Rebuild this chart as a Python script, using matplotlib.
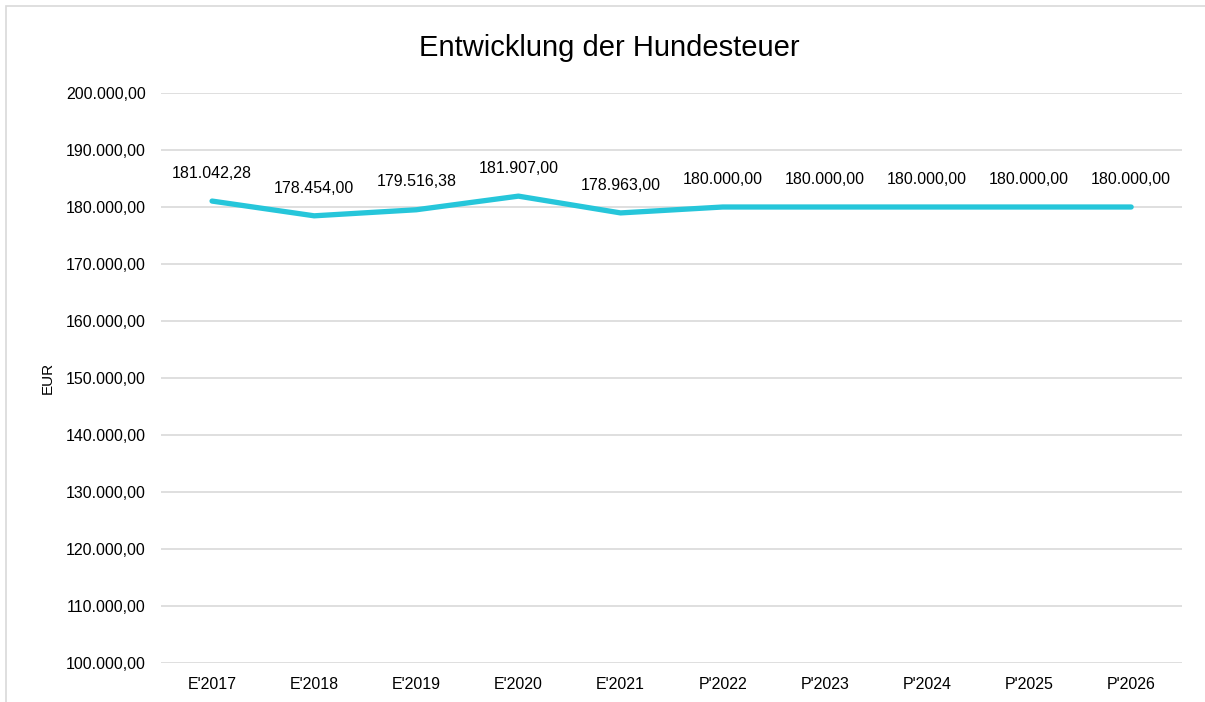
import matplotlib
matplotlib.use("Agg")
import matplotlib.pyplot as plt
from matplotlib.patches import Rectangle

plt.rcParams['font.family'] = ['Liberation Sans', 'DejaVu Sans']

# data
jahre = ["E'2017", "E'2018", "E'2019", "E'2020", "E'2021",
         "P'2022", "P'2023", "P'2024", "P'2025", "P'2026"]
steuer = [181042.28, 178454.00, 179516.38, 181907.00, 178963.00,
          180000.00, 180000.00, 180000.00, 180000.00, 180000.00]
y_ticks = [100000, 110000, 120000, 130000, 140000, 150000,
           160000, 170000, 180000, 190000, 200000]


def de_format(v):
    s = "{:,.2f}".format(v)
    return s.replace(",", "X").replace(".", ",").replace("X", ".")


fig = plt.figure(figsize=(12.05, 7.02), dpi=100)
ax = fig.add_axes([0.1336, 0.0556, 0.8475, 0.8119])

x = list(range(len(jahre)))
ax.plot(x, steuer, color="#26C6DA", linewidth=3.8, solid_capstyle="round",
        solid_joinstyle="round", zorder=3)

for xi, v in zip(x, steuer):
    ax.annotate(de_format(v), (xi, v), xytext=(0, 20), textcoords="offset points",
                ha="center", va="center", fontsize=11.5, color="#000000")

ax.set_xlim(-0.5, len(jahre) - 0.5)
ax.set_ylim(100000, 200000)
ax.set_xticks(x)
ax.set_xticklabels(jahre, fontsize=11.5)
ax.set_yticks(y_ticks)
ax.set_yticklabels([de_format(t) for t in y_ticks], fontsize=11.5)
ax.tick_params(length=0)
ax.tick_params(axis="x", pad=10)
ax.tick_params(axis="y", pad=11)
ax.grid(axis="y", color="#D9D9D9", linewidth=1.2)
ax.set_axisbelow(True)
for s in ax.spines.values():
    s.set_visible(False)

ax.set_ylabel("EUR", fontsize=11, labelpad=8)
fig.text(0.506, 0.931, "Entwicklung der Hundesteuer", ha="center", va="center", fontsize=21)

# chart frame
fig.patches.append(Rectangle((6 / 1205, -0.05), 1.05, 1 - 6 / 702 + 0.05,
                             transform=fig.transFigure, fill=False,
                             edgecolor="#D9D9D9", linewidth=1.2))

fig.savefig("out.png", dpi=100)
